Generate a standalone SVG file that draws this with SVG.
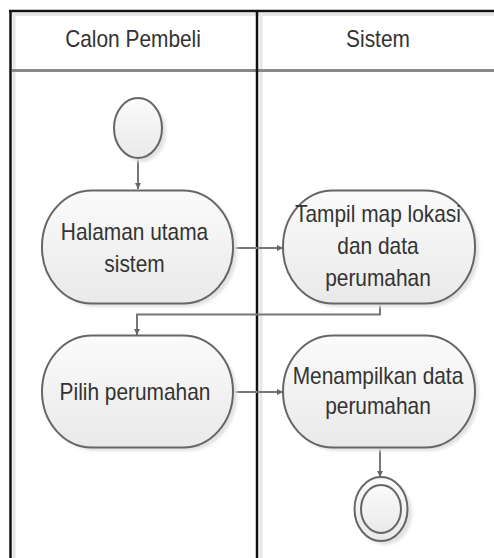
<svg xmlns="http://www.w3.org/2000/svg" width="494" height="558" viewBox="0 0 494 558">
  <defs>
    <linearGradient id="nodeFill" x1="0" y1="0" x2="0" y2="1">
      <stop offset="0" stop-color="#fbfbfb"/>
      <stop offset="1" stop-color="#e9e9e9"/>
    </linearGradient>
    <filter id="soft" x="-20%" y="-20%" width="140%" height="140%">
      <feGaussianBlur stdDeviation="1.5"/>
    </filter>
    <marker id="arrow" markerWidth="8" markerHeight="8" refX="7" refY="4" orient="auto" markerUnits="userSpaceOnUse">
      <path d="M1,1 L7,4 L1,7 Z" fill="#666"/>
    </marker>
  </defs>
  <style>
    .label { font-family: "Liberation Sans", Arial, sans-serif; font-size: 24px; fill: #333; text-anchor: middle; }
    .node { fill: url(#nodeFill); stroke: #666; stroke-width: 2; }
    .shadow { fill: #e2e2e2; filter: url(#soft); }
    .edge { fill: none; stroke: #777; stroke-width: 2; }
    .lane { stroke: #111; stroke-width: 2.5; }
    .laneShade { stroke: #e6e6e6; stroke-width: 3; }
  </style>

  <rect width="494" height="558" fill="#fff"/>

  <!-- swimlane frame -->
  <g id="lanes">
    <line class="laneShade" x1="14" y1="14" x2="14" y2="558"/>
    <line class="laneShade" x1="261" y1="14" x2="261" y2="558"/>
    <line class="laneShade" x1="12" y1="14.5" x2="494" y2="14.5"/>
    <line x1="12" y1="70.5" x2="494" y2="70.5" stroke="#888" stroke-width="3"/>
    <line class="lane" x1="10.5" y1="11" x2="10.5" y2="558"/>
    <line class="lane" x1="257" y1="11" x2="257" y2="558"/>
    <line class="lane" x1="9" y1="11" x2="494" y2="11"/>
    <text class="label" transform="translate(133 46.7) scale(0.87 1)">Calon Pembeli</text>
    <text class="label" transform="translate(378 46.7) scale(0.87 1)">Sistem</text>
  </g>

  <!-- connectors -->
  <g id="connectors">
    <path class="edge" d="M138,158 V189" marker-end="url(#arrow)"/>
    <path class="edge" d="M233,248 H283" marker-end="url(#arrow)"/>
    <path class="edge" d="M380,304 V314.5 H137 V335" marker-end="url(#arrow)"/>
    <path class="edge" d="M233,392 H283" marker-end="url(#arrow)"/>
    <path class="edge" d="M380,447 V477" marker-end="url(#arrow)"/>
  </g>

  <g id="start">
    <ellipse class="shadow" cx="142" cy="132" rx="24" ry="30"/>
    <ellipse class="node" cx="138" cy="128" rx="24" ry="30"/>
  </g>

  <g id="halaman-utama">
    <rect class="shadow" x="46" y="194" width="191" height="113" rx="50" ry="56"/>
    <rect class="node" x="42" y="190.5" width="191" height="113" rx="50" ry="56"/>
    <text class="label" transform="translate(134.5 240) scale(0.87 1)">Halaman utama</text>
    <text class="label" transform="translate(134.5 271.5) scale(0.87 1)">sistem</text>
  </g>

  <g id="tampil-map">
    <rect class="shadow" x="287" y="194" width="192" height="113" rx="50" ry="56"/>
    <rect class="node" x="283" y="190.5" width="192" height="113" rx="50" ry="56"/>
    <text class="label" transform="translate(378 222) scale(0.87 1)">Tampil map lokasi</text>
    <text class="label" transform="translate(378 254) scale(0.87 1)">dan data</text>
    <text class="label" transform="translate(378 286) scale(0.87 1)">perumahan</text>
  </g>

  <g id="pilih-perumahan">
    <rect class="shadow" x="46" y="339" width="191" height="112" rx="50" ry="56"/>
    <rect class="node" x="42" y="335.5" width="191" height="112" rx="50" ry="56"/>
    <text class="label" transform="translate(135 399.5) scale(0.87 1)">Pilih perumahan</text>
  </g>

  <g id="menampilkan-data">
    <rect class="shadow" x="287" y="339" width="192" height="112" rx="50" ry="56"/>
    <rect class="node" x="283" y="335.5" width="192" height="112" rx="50" ry="56"/>
    <text class="label" transform="translate(378 383.5) scale(0.87 1)">Menampilkan data</text>
    <text class="label" transform="translate(378 414) scale(0.87 1)">perumahan</text>
  </g>

  <g id="end">
    <ellipse class="shadow" cx="385" cy="513" rx="27" ry="32"/>
    <ellipse class="node" cx="381" cy="509" rx="26.5" ry="32"/>
    <ellipse class="node" cx="381" cy="509" rx="20" ry="24"/>
  </g>
</svg>
